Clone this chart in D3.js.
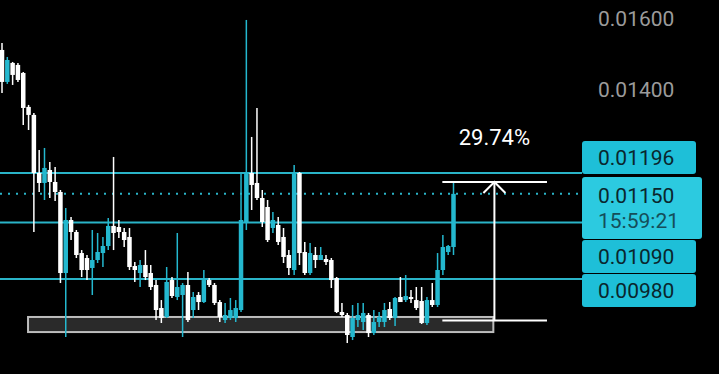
<!DOCTYPE html>
<html>
<head>
<meta charset="utf-8">
<script src="https://cdn.jsdelivr.net/npm/d3@7"></script>
<style>
  html, body { margin: 0; padding: 0; background: #000; }
  svg { display: block; font-family: Roboto, "Noto Sans", sans-serif; }
</style>
</head>
<body>
<div id="chart"></div>
<script>
// candle values, left to right
const opens = [0.015071, 0.014192, 0.014708, 0.014653, 0.014434, 0.013541, 0.013339, 0.011960, 0.011738, 0.012028,
  0.011760, 0.011541, 0.009911, 0.010949, 0.010705, 0.010290, 0.010194, 0.010005, 0.010156, 0.010290,
  0.010427, 0.010827, 0.010806, 0.010705, 0.010605, 0.010042, 0.009911, 0.010061, 0.009911, 0.009690,
  0.009280, 0.009125, 0.009781, 0.009474, 0.009510, 0.009690, 0.009245, 0.009510, 0.009385, 0.009781,
  0.009690, 0.009385, 0.009073, 0.009107, 0.009107, 0.009245, 0.010888, 0.011960, 0.011738, 0.011411,
  0.011220, 0.010786, 0.010847, 0.010605, 0.010252, 0.009967, 0.011960, 0.010310, 0.009911, 0.010252,
  0.010156, 0.010175, 0.010156, 0.009818, 0.009211, 0.009159, 0.008788, 0.009073, 0.009039,
  0.009159, 0.008854, 0.009039, 0.009039, 0.009263, 0.009107, 0.009474, 0.009420, 0.009474,
  0.009420, 0.009403, 0.009022, 0.009420, 0.009333, 0.009967, 0.010310, 0.010407];
const highs = [0.015271, 0.014874, 0.014735, 0.014708, 0.014461, 0.013592, 0.013389, 0.012489, 0.012536, 0.012210,
  0.012096, 0.011584, 0.011199, 0.011011, 0.010745, 0.010348, 0.010252, 0.010745, 0.010685, 0.010605,
  0.010991, 0.012326, 0.010949, 0.010786, 0.010786, 0.010118, 0.010156, 0.010348, 0.010061, 0.009781,
  0.009420, 0.010023, 0.009837, 0.010685, 0.009726, 0.009930, 0.009563, 0.009563, 0.009967, 0.009818,
  0.009726, 0.009420, 0.009368, 0.009456, 0.009420, 0.011960, 0.015945, 0.012798, 0.013515, 0.011584,
  0.011368, 0.011115, 0.011011, 0.010786, 0.010348, 0.012142, 0.011983, 0.010506, 0.010486, 0.010407,
  0.010407, 0.010252, 0.010194, 0.009837, 0.009368, 0.009194, 0.009333, 0.009368, 0.009368,
  0.009194, 0.009245, 0.009211, 0.009368, 0.009385, 0.009474, 0.009837, 0.009874, 0.009599,
  0.009654, 0.009654, 0.009474, 0.009726, 0.010290, 0.010645, 0.010447, 0.011760];
const lows = [0.013901, 0.014139, 0.014112, 0.014192, 0.013090, 0.012967, 0.010705, 0.011541, 0.011368, 0.011411,
  0.011347, 0.009726, 0.008788, 0.010545, 0.010194, 0.009837, 0.009781, 0.009510, 0.010099, 0.010023,
  0.010348, 0.010348, 0.010585, 0.010407, 0.009967, 0.009745, 0.009654, 0.009781, 0.009599, 0.009073,
  0.009022, 0.009107, 0.009456, 0.009420, 0.008788, 0.009039, 0.009107, 0.009245, 0.009368, 0.009654,
  0.009333, 0.009039, 0.009022, 0.009073, 0.009039, 0.009211, 0.010745, 0.011157, 0.011368, 0.010806,
  0.010506, 0.010685, 0.010447, 0.010099, 0.009874, 0.009874, 0.010061, 0.009874, 0.009874, 0.010005,
  0.010156, 0.010061, 0.009636, 0.009194, 0.009125, 0.008689, 0.008738, 0.008954, 0.008903,
  0.008788, 0.008821, 0.008954, 0.008954, 0.009073, 0.008971, 0.009385, 0.009385, 0.009368,
  0.009245, 0.009005, 0.008988, 0.009298, 0.009298, 0.009874, 0.010252, 0.010252];
const closes = [0.014192, 0.014790, 0.014380, 0.014245, 0.013515, 0.013339, 0.011960, 0.011738, 0.012074, 0.011760,
  0.011541, 0.009911, 0.010949, 0.010705, 0.010252, 0.009967, 0.009967, 0.010156, 0.010310, 0.010427,
  0.010827, 0.010685, 0.010705, 0.010545, 0.010023, 0.009967, 0.010061, 0.009837, 0.009654, 0.009245,
  0.009107, 0.009745, 0.009492, 0.009654, 0.009690, 0.009073, 0.009474, 0.009385, 0.009781, 0.009690,
  0.009368, 0.009125, 0.009159, 0.009245, 0.009280, 0.010949, 0.011960, 0.011694, 0.011411, 0.010908,
  0.010545, 0.010949, 0.010506, 0.010214, 0.010005, 0.011960, 0.010290, 0.009911, 0.010290, 0.010156,
  0.010252, 0.010118, 0.009781, 0.009211, 0.009159, 0.008821, 0.009107, 0.009159, 0.009194,
  0.008854, 0.009039, 0.009125, 0.009245, 0.009107, 0.009456, 0.009385, 0.009492, 0.009438,
  0.009280, 0.009022, 0.009420, 0.009333, 0.009967, 0.010407, 0.010427, 0.011500];

// price axis ticks and level lines
const tickValues = [0.016, 0.014];
const levelLines = [0.01196, 0.01090, 0.00980];
const lastPrice = 0.01150;
const countdown = "15:59:21";

// drawing tools (bar index / price)
const rangeBox = { x0: 4.9, x1: 92.5, top: 0.009125, bottom: 0.008870 };
const measure = { x0: 82.9, x1: 102.6, xArrow: 92.7, high: 0.011760, low: 0.009064, label: "29.74%" };

const width = 719, height = 374;
const plotRight = 582;
const upColor = "#24b8cf", downColor = "#ffffff";
const lineColor = "#2ab4c8";

const candles = opens.map((o, i) => ({ i, o, h: highs[i], l: lows[i], c: closes[i] }));

const svg = d3.select("#chart").append("svg")
  .attr("width", width)
  .attr("height", height);

svg.append("rect").attr("width", width).attr("height", height).attr("fill", "#000");

const x = d3.scaleLinear().domain([0, candles.length - 1]).range([2, 453.5]);
const y = d3.scaleLog().domain([0.0098, 0.01196]).range([279, 173]);
const bodyW = 4.5;

// axis tick labels (right side)
svg.append("g").selectAll("text")
  .data(tickValues)
  .enter().append("text")
  .attr("x", 598)
  .attr("y", d => y(d))
  .attr("dy", "0.36em")
  .attr("fill", "#9b9b9b")
  .style("font-size", "21px")
  .text(d => d.toFixed(5));

// grey range rectangle (behind candles)
svg.append("rect")
  .attr("x", x(rangeBox.x0))
  .attr("y", y(rangeBox.top))
  .attr("width", x(rangeBox.x1) - x(rangeBox.x0))
  .attr("height", y(rangeBox.bottom) - y(rangeBox.top))
  .attr("fill", "#2a2a2a")
  .attr("stroke", "#bdbdbd")
  .attr("stroke-width", 2);

// level lines
svg.append("g").selectAll("line")
  .data(levelLines)
  .enter().append("line")
  .attr("x1", 0).attr("x2", plotRight)
  .attr("y1", d => y(d)).attr("y2", d => y(d))
  .attr("stroke", lineColor)
  .attr("stroke-width", 2);

svg.append("line")
  .attr("x1", 0).attr("x2", plotRight)
  .attr("y1", y(lastPrice)).attr("y2", y(lastPrice))
  .attr("stroke", lineColor)
  .attr("stroke-width", 2)
  .attr("stroke-dasharray", "2,6");

// candles
const g = svg.append("g");
g.selectAll(".wick")
  .data(candles)
  .enter().append("line")
  .attr("class", "wick")
  .attr("x1", d => x(d.i)).attr("x2", d => x(d.i))
  .attr("y1", d => y(d.h)).attr("y2", d => y(d.l))
  .attr("stroke", d => d.c >= d.o ? upColor : downColor)
  .attr("stroke-width", 1.5);

g.selectAll(".body")
  .data(candles)
  .enter().append("rect")
  .attr("class", "body")
  .attr("x", d => x(d.i) - bodyW / 2)
  .attr("y", d => y(Math.max(d.o, d.c)))
  .attr("width", bodyW)
  .attr("height", d => Math.max(1.5, Math.abs(y(d.o) - y(d.c))))
  .attr("fill", d => d.c >= d.o ? upColor : downColor);

// measure tool
const mg = svg.append("g").attr("stroke", "#fff").attr("stroke-width", 2).attr("fill", "none");
[measure.high, measure.low].forEach(v => {
  mg.append("line")
    .attr("x1", x(measure.x0)).attr("x2", x(measure.x1))
    .attr("y1", y(v)).attr("y2", y(v));
});
const ax = x(measure.xArrow);
mg.append("line")
  .attr("x1", ax).attr("x2", ax)
  .attr("y1", y(measure.high)).attr("y2", y(measure.low));
mg.append("path")
  .attr("d", `M${ax - 11},${y(measure.high) + 11}L${ax},${y(measure.high)}L${ax + 11},${y(measure.high) + 11}`);

svg.append("text")
  .attr("x", ax)
  .attr("y", y(measure.high) - 45)
  .attr("dy", "0.36em")
  .attr("text-anchor", "middle")
  .attr("fill", "#fff")
  .style("font-size", "22px")
  .text(measure.label);

// price label boxes, stacked down from the first level line
const labels = [
  { lines: [levelLines[0].toFixed(5)], fill: "#1ebfd8", w: 114 },
  { lines: [lastPrice.toFixed(5), countdown], fill: "#2ccae0", w: 120 },
  { lines: [levelLines[1].toFixed(5)], fill: "#1ebfd8", w: 114 },
  { lines: [levelLines[2].toFixed(5)], fill: "#1ebfd8", w: 114 }
];
let boxTop = y(levelLines[0]) - 32;
labels.forEach((lb, k) => {
  const h = lb.lines.length === 1 ? 33 : 62;
  const bg = svg.append("g").attr("transform", `translate(${plotRight},${boxTop})`);
  bg.append("rect")
    .attr("width", lb.w).attr("height", h)
    .attr("rx", 3)
    .attr("fill", lb.fill);
  lb.lines.forEach((t, j) => {
    bg.append("text")
      .attr("x", 16)
      .attr("y", h / lb.lines.length * (j + 0.5) + (lb.lines.length > 1 ? (j === 0 ? 3 : -3) : 0))
      .attr("dy", "0.36em")
      .attr("fill", j === 0 ? "#0a262d" : "#154e59")
      .style("font-size", "21px")
      .text(t);
  });
  boxTop += h + (k === 0 ? 3 : 1);
});
</script>
</body>
</html>
